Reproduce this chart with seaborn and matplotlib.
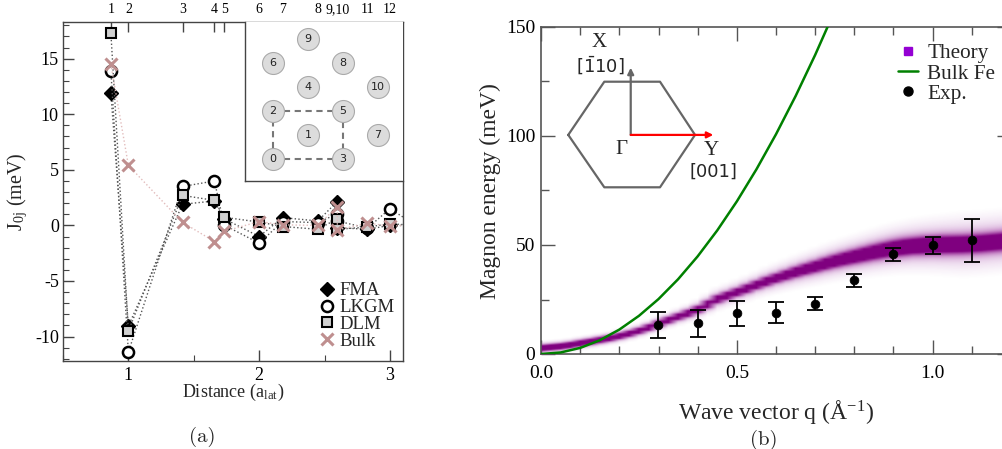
import numpy as np
import matplotlib
matplotlib.use("Agg")
import matplotlib.pyplot as plt
from matplotlib.colors import LinearSegmentedColormap
from matplotlib.lines import Line2D
import seaborn as sns

# ---------------- panel (a): exchange parameters J_0j ----------------
shell_dist = [0.866, 1.0, 1.414, 1.658, 1.732, 2.0, 2.179, 2.449, 2.598, 2.598, 2.828, 3.0, 3.2]
j_fma  = [11.9, -9.05, 1.9, 2.2, 0.6, -1.0, 0.7, 0.4, 2.15, -0.2, -0.35, 0.0, 0.0]
j_lkgm = [13.9, -11.4, 3.5, 4.0, 0.03, -1.6, 0.35, 0.25, 1.05, 0.4, -0.25, 1.5, 0.0]
j_dlm  = [17.35, -9.5, 2.7, 2.25, 0.73, 0.3, -0.1, -0.35, 0.6, -0.35, -0.15, 0.15, 0.0]
j_bulk = [14.5, 5.4, 0.27, -1.45, -0.54, 0.35, 0.05, 0.0, 1.7, -0.4, 0.2, -0.05, 0.0]

top_tick_dist = [0.866, 1.0, 1.414, 1.658, 1.732, 2.0, 2.179, 2.449, 2.598, 2.828, 3.0]
top_tick_labels = ["1", "2", "3", "4", "5", "6", "7", "8", "9,10", "11", "12"]

# (110) surface sites for the lattice sketch
site_ids = ["0", "1", "2", "3", "4", "5", "6", "7", "8", "9", "10"]
site_x = [0, 1, 0, 2, 1, 2, 0, 3, 2, 1, 3]
site_y = [0, 1, 2, 0, 3, 2, 4, 1, 4, 5, 3]
cell_bonds = [(0, 3), (0, 2), (2, 5), (5, 3)]

# ---------------- panel (b): magnon dispersion ----------------
exp_q = [0.3, 0.4, 0.5, 0.6, 0.7, 0.8, 0.9, 1.0, 1.1]
exp_E = [13.2, 14.0, 18.6, 19.0, 23.1, 33.9, 45.7, 49.8, 52.1]
exp_err = [6.0, 6.0, 5.7, 5.0, 3.0, 3.0, 3.0, 4.0, 10.0]

bulk_q = [0.0, 0.05, 0.1, 0.15, 0.2, 0.25, 0.3, 0.35, 0.4, 0.45, 0.5, 0.55, 0.6, 0.65, 0.7, 0.75]
bulk_E = [0.0, 0.7, 2.8, 6.3, 11.2, 17.5, 25.2, 34.3, 44.8, 56.7, 70.0, 84.7, 100.8, 118.3, 137.2, 157.5]

theory_q = [0.0, 0.025, 0.05, 0.075, 0.1, 0.125, 0.15, 0.175, 0.2, 0.225, 0.25, 0.275,
            0.3, 0.325, 0.35, 0.375, 0.4, 0.425, 0.45, 0.475, 0.5, 0.525, 0.55, 0.575,
            0.6, 0.625, 0.65, 0.675, 0.7, 0.725, 0.75, 0.775, 0.8, 0.825, 0.85, 0.875,
            0.9, 0.925, 0.95, 0.975, 1.0, 1.025, 1.05, 1.075, 1.1, 1.125, 1.15, 1.175, 1.2]
theory_E = [2.6, 3.0, 3.4, 4.0, 4.8, 5.5, 6.3, 7.1, 8.1, 9.2, 10.5, 12.0,
            13.8, 15.4, 17.0, 18.5, 20.3, 22.6, 25.0, 26.6, 28.2, 29.8, 31.5, 33.1,
            34.6, 36.0, 37.4, 38.7, 39.9, 41.2, 42.4, 43.5, 44.5, 45.5, 46.5, 47.4,
            48.2, 48.8, 49.3, 49.6, 49.8, 49.9, 50.0, 50.1, 50.3, 50.6, 51.0, 51.4, 51.8]
theory_core = [1.0, 1.0, 1.0, 1.0, 1.0, 1.0, 1.0, 1.0, 1.0, 1.0, 1.0, 1.1,
               1.1, 1.1, 1.1, 1.2, 1.2, 1.3, 1.3, 1.3, 1.3, 1.4, 1.4, 1.5,
               1.5, 1.6, 1.7, 1.8, 1.9, 2.0, 2.1, 2.2, 2.3, 2.4, 2.5, 2.6,
               2.7, 2.8, 2.8, 2.9, 2.9, 3.0, 3.0, 3.0, 3.0, 3.0, 3.0, 3.0, 3.0]
theory_halo = [1.8, 1.8, 1.8, 1.8, 1.8, 1.8, 1.8, 1.8, 1.9, 1.9, 2.0, 2.0,
               2.1, 2.2, 2.3, 2.4, 2.6, 2.8, 3.0, 3.1, 3.2, 3.3, 3.4, 3.6,
               3.8, 4.0, 4.2, 4.4, 4.6, 4.8, 5.0, 5.2, 5.4, 5.6, 5.8, 6.0,
               6.2, 6.4, 6.6, 6.8, 7.0, 7.2, 7.4, 7.6, 7.6, 7.6, 7.6, 7.6, 7.6]

# ---------------- style ----------------
sns.set_style("ticks")
plt.rcParams["font.family"] = ["Liberation Serif", "DejaVu Serif"]
plt.rcParams["mathtext.fontset"] = "stix"
plt.rcParams["axes.unicode_minus"] = False

W, H = 1003, 449
fig = plt.figure(figsize=(W / 100, H / 100), dpi=100)


def px_rect(left, top, right, bottom):
    return [left / W, (H - bottom) / H, (right - left) / W, (bottom - top) / H]


spine_col = "#444444"

# ======================= panel (a) =======================
axa = fig.add_axes(px_rect(63, 22, 403, 361))
line_col = "#555555"
series = [
    (j_fma, dict(marker="D", markersize=7, markerfacecolor="black", markeredgecolor="black",
                 markeredgewidth=1.0, color=line_col)),
    (j_lkgm, dict(marker="o", markersize=8, markerfacecolor="white", markeredgecolor="black",
                  markeredgewidth=1.8, color=line_col)),
    (j_dlm, dict(marker="s", markersize=7, markerfacecolor="#d0d0d0", markeredgecolor="black",
                 markeredgewidth=1.5, color=line_col)),
    (j_bulk, dict(marker="x", markersize=8, markeredgecolor="#bf8f8f", markeredgewidth=2.2,
                  color="#e2bcbc")),
]
for vals, kw in series:
    sns.lineplot(x=shell_dist, y=vals, ax=axa, estimator=None, sort=False,
                 linestyle=":", linewidth=1.0, **kw)

axa.set_xlim(0.5, 3.1)
axa.set_ylim(-12.2, 18.3)
axa.set_xticks([1, 2, 3])
axa.set_xticks([0.5, 1.5, 2.5], minor=True)
axa.set_yticks([-10, -5, 0, 5, 10, 15])
axa.set_yticks(np.arange(-12, 19, 1), minor=True)
axa.tick_params(which="both", direction="in", top=False, right=False, colors=spine_col,
                labelcolor="black", labelsize=13)
axa.tick_params(which="major", length=8, width=1.0)
axa.tick_params(which="minor", length=4, width=0.8)
axa.tick_params(axis="x", pad=4)
axa.tick_params(axis="y", pad=3)
for s in axa.spines.values():
    s.set_color(spine_col)
    s.set_linewidth(1.0)

secax = axa.secondary_xaxis("top")
secax.set_xticks(top_tick_dist, labels=top_tick_labels)
secax.tick_params(direction="in", length=7, width=1.0, colors=spine_col, labelcolor="black",
                  labelsize=10, pad=4)
secax.spines["top"].set_visible(False)

axa.set_xlabel(r"Distance (a$_{\mathregular{lat}}$)", fontsize=13)
axa.xaxis.set_label_coords(0.5, -0.092)
axa.xaxis.label.set_va("center")
axa.set_ylabel(r"J$_{\mathregular{0j}}$ (meV)", fontsize=14.5)
axa.yaxis.set_label_coords(-0.132, 0.4985)
axa.yaxis.label.set_va("center")

legend_a = [
    Line2D([], [], linestyle="none", marker="D", markersize=7, markerfacecolor="black",
           markeredgecolor="black", label="FMA"),
    Line2D([], [], linestyle="none", marker="o", markersize=8, markerfacecolor="white",
           markeredgecolor="black", markeredgewidth=1.8, label="LKGM"),
    Line2D([], [], linestyle="none", marker="s", markersize=7, markerfacecolor="#d0d0d0",
           markeredgecolor="black", markeredgewidth=1.5, label="DLM"),
    Line2D([], [], linestyle="none", marker="x", markersize=8, markeredgecolor="#bf8f8f",
           markeredgewidth=2.2, label="Bulk"),
]
axa.legend(handles=legend_a, loc="lower right", bbox_to_anchor=(1.015, -0.005), frameon=False,
           fontsize=13.5, handlelength=0.6, handletextpad=0.4, labelspacing=-0.02,
           borderaxespad=0.3)

# lattice sketch
axi = fig.add_axes(px_rect(245, 22, 403, 181))
axi.set_xlim(-0.8, 3.714)
axi.set_ylim(-0.917, 5.708)
axi.set_xticks([])
axi.set_yticks([])
for side in ("top", "right"):
    axi.spines[side].set_visible(False)
for side in ("left", "bottom"):
    axi.spines[side].set_color(spine_col)
    axi.spines[side].set_linewidth(1.0)
for a, b in cell_bonds:
    axi.plot([site_x[a], site_x[b]], [site_y[a], site_y[b]], linestyle=(0, (3, 2.2)),
             color="#777777", linewidth=1.5, zorder=1)
sns.scatterplot(x=site_x, y=site_y, ax=axi, s=250, color="#dcdcdc", edgecolor="#aaaaaa",
                linewidth=0.8, zorder=2, legend=False)
for lab, xx, yy in zip(site_ids, site_x, site_y):
    axi.text(xx, yy, lab, ha="center", va="center", fontsize=8, family="DejaVu Sans",
             color="#222222", zorder=3)

# ======================= panel (b) =======================
axb = fig.add_axes(px_rect(541, 27, 1011, 354))

# spectral intensity of the theory band
E_grid = np.linspace(0, 150, 751)
tq = np.array(theory_q)
tc = np.array(theory_E)
tw = np.array(theory_core)
th = np.array(theory_halo)
dE = E_grid[:, None] - tc[None, :]
intensity = np.exp(-dE ** 2 / (2 * tw ** 2)) + 0.3 * np.exp(-dE ** 2 / (2 * th ** 2))
purple_cmap = LinearSegmentedColormap.from_list(
    "purple_alpha", [(0.55, 0.1, 0.6, 0.0), (0.55, 0.05, 0.55, 0.45), (0.5, 0.0, 0.5, 1.0)])
dq = tq[1] - tq[0]
axb.imshow(intensity, origin="lower", aspect="auto", cmap=purple_cmap, vmin=0.03, vmax=0.85,
           extent=[tq[0] - dq / 2, tq[-1] + dq / 2, 0, 150], interpolation="bilinear", zorder=1)

sns.lineplot(x=bulk_q, y=bulk_E, ax=axb, color="#008000", linewidth=1.8, estimator=None,
             sort=False, zorder=3)
axb.errorbar(exp_q, exp_E, yerr=exp_err, fmt="none", ecolor="black", elinewidth=1.3,
             capsize=6, capthick=1.3, zorder=4)
sns.scatterplot(x=exp_q, y=exp_E, ax=axb, s=40, color="black", edgecolor="black",
                zorder=5, legend=False)

axb.set_xlim(0, 1.2)
axb.set_ylim(0, 150)
axb.set_xticks([0.0, 0.5, 1.0])
axb.set_xticklabels(["0.0", "0.5", "1.0"])
axb.set_xticks(np.arange(0, 1.21, 0.1), minor=True)
axb.set_yticks([0, 50, 100, 150])
axb.set_yticks([25, 75, 125], minor=True)
axb.tick_params(which="both", direction="in", top=True, right=True, colors="#555555",
                labelcolor="black", labelsize=14)
axb.tick_params(which="major", length=10, width=1.0)
axb.tick_params(which="minor", length=6, width=1.0)
axb.tick_params(axis="x", pad=8)
axb.tick_params(axis="y", pad=4)
for s in axb.spines.values():
    s.set_color("#555555")
    s.set_linewidth(1.2)

axb.set_xlabel(r"Wave vector q (Å$^{\mathregular{-1}}$)", fontsize=17)
axb.xaxis.set_label_coords(0.5, -0.18)
axb.xaxis.label.set_va("center")
axb.set_ylabel("Magnon energy (meV)", fontsize=17)
axb.yaxis.set_label_coords(-0.1085, 0.498)
axb.yaxis.label.set_va("center")

# Brillouin zone sketch
hex_x = [0.058, 0.1347, 0.2532, 0.3277, 0.2532, 0.1347, 0.058]
hex_y = [0.670, 0.8327, 0.8327, 0.670, 0.5098, 0.5098, 0.670]
axb.plot(hex_x, hex_y, color="#666666", linewidth=1.6, transform=axb.transAxes, zorder=2)
axb.annotate("", xy=(0.1909, 0.8755), xytext=(0.1909, 0.670), xycoords="axes fraction",
             arrowprops=dict(arrowstyle="-|>", color="#666666", lw=1.6, mutation_scale=9,
                             shrinkA=0, shrinkB=0))
axb.annotate("", xy=(0.3666, 0.670), xytext=(0.1909, 0.670), xycoords="axes fraction",
             arrowprops=dict(arrowstyle="-|>", color="#ff0000", lw=1.6, mutation_scale=9,
                             shrinkA=0, shrinkB=0))
axb.text(0.124, 0.952, "X", transform=axb.transAxes, ha="center", va="center", fontsize=15)
axb.text(0.1255, 0.881, r"[$\bar{1}$10]", transform=axb.transAxes, ha="center", va="center",
         fontsize=13, family="DejaVu Sans", math_fontfamily="dejavusans")
axb.text(0.1717, 0.624, "Γ", transform=axb.transAxes, ha="center", va="center", fontsize=15)
axb.text(0.3617, 0.621, "Y", transform=axb.transAxes, ha="center", va="center", fontsize=15)
axb.text(0.3666, 0.5575, "[001]", transform=axb.transAxes, ha="center", va="center",
         fontsize=13, family="DejaVu Sans")

legend_b = [
    Line2D([], [], linestyle="none", marker="s", markersize=5.5, color="#9400d3",
           label="Theory"),
    Line2D([], [], color="#008000", linewidth=1.8, label="Bulk Fe"),
    Line2D([], [], linestyle="none", marker="o", markersize=6.5, color="black", label="Exp."),
]
axb.legend(handles=legend_b, loc="upper left", bbox_to_anchor=(0.7596, 0.95), frameon=False,
           fontsize=15.3, handlelength=0.95, handletextpad=0.42, labelspacing=0.02,
           borderaxespad=0.0, borderpad=0.0)

# panel captions
fig.text(202 / W, 1 - 437 / H, "(a)", ha="center", va="center", fontsize=15, family="cmr10")
fig.text(764 / W, 1 - 440 / H, "(b)", ha="center", va="center", fontsize=15, family="cmr10")

fig.savefig("out.png", dpi=100)
